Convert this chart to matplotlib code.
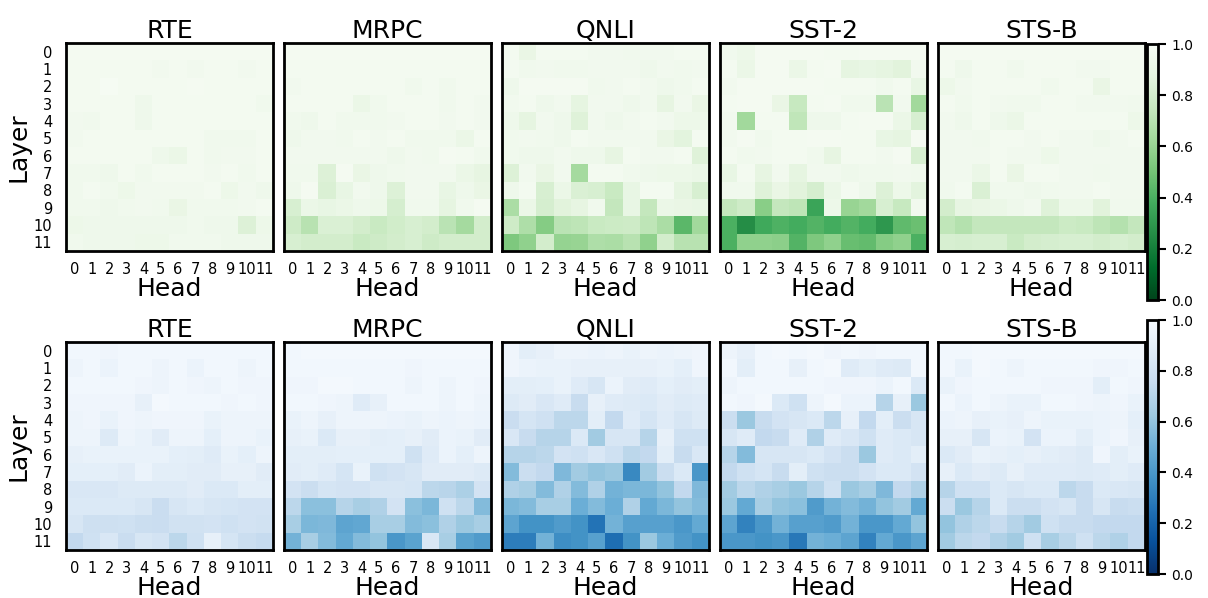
import numpy as np
import matplotlib
matplotlib.use("Agg")
import matplotlib.pyplot as plt

tasks = ["RTE", "MRPC", "QNLI", "SST-2", "STS-B"]
heads = [str(i) for i in range(12)]
layers = [str(i) for i in range(12)]

# top row (green)
rte_g = [
    [0.98,0.98,0.98,0.98,0.98,0.98,0.98,0.98,0.98,0.98,0.98,0.98],
    [0.97,0.97,0.97,0.97,0.97,0.96,0.97,0.96,0.97,0.97,0.96,0.97],
    [0.97,0.97,0.99,0.97,0.97,0.97,0.97,0.98,0.97,0.97,0.97,0.97],
    [0.97,0.97,0.97,0.97,0.94,0.97,0.97,0.97,0.97,0.97,0.97,0.95],
    [0.96,0.95,0.97,0.97,0.94,0.97,0.97,0.97,0.97,0.97,0.97,0.97],
    [0.96,0.97,0.97,0.97,0.97,0.97,0.97,0.97,0.95,0.95,0.95,0.97],
    [0.97,0.97,0.97,0.97,0.97,0.94,0.92,0.97,0.95,0.96,0.96,0.97],
    [0.95,0.95,0.94,0.97,0.95,0.97,0.97,0.97,0.96,0.97,0.95,0.97],
    [0.95,0.97,0.95,0.93,0.96,0.96,0.96,0.96,0.97,0.93,0.96,0.94],
    [0.95,0.95,0.94,0.95,0.96,0.95,0.91,0.95,0.95,0.95,0.96,0.97],
    [0.93,0.94,0.94,0.94,0.94,0.94,0.94,0.95,0.94,0.94,0.84,0.93],
    [0.95,0.94,0.94,0.94,0.93,0.93,0.95,0.95,0.95,0.94,0.94,0.94],
]
mrpc_g = [
    [0.98,0.98,0.98,0.98,0.98,0.98,0.98,0.98,0.98,0.98,0.98,0.98],
    [0.97,0.97,0.97,0.97,0.97,0.97,0.97,0.97,0.97,0.97,0.97,0.97],
    [0.96,0.97,0.97,0.97,0.97,0.97,0.97,0.95,0.97,0.95,0.97,0.97],
    [0.97,0.97,0.97,0.97,0.92,0.95,0.97,0.97,0.97,0.95,0.97,0.96],
    [0.95,0.94,0.97,0.95,0.95,0.95,0.96,0.97,0.97,0.96,0.97,0.96],
    [0.94,0.96,0.96,0.95,0.97,0.96,0.97,0.95,0.95,0.95,0.92,0.97],
    [0.96,0.96,0.96,0.96,0.96,0.96,0.94,0.96,0.95,0.98,0.97,0.95],
    [0.95,0.95,0.84,0.98,0.91,0.94,0.95,0.96,0.96,0.96,0.92,0.89],
    [0.94,0.98,0.83,0.90,0.96,0.94,0.84,0.96,0.96,0.90,0.94,0.91],
    [0.82,0.92,0.90,0.92,0.94,0.93,0.81,0.95,0.95,0.88,0.95,0.98],
    [0.78,0.70,0.83,0.83,0.80,0.76,0.79,0.82,0.80,0.71,0.64,0.80],
    [0.82,0.80,0.80,0.80,0.76,0.78,0.80,0.82,0.78,0.80,0.80,0.80],
]
qnli_g = [
    [0.97,0.91,0.97,0.97,0.97,0.96,0.96,0.95,0.96,0.96,0.97,0.97],
    [0.97,0.95,0.96,0.95,0.95,0.96,0.96,0.96,0.94,0.96,0.95,0.96],
    [0.94,0.98,0.98,0.98,0.98,0.95,0.96,0.97,0.96,0.94,0.95,0.97],
    [0.96,0.97,0.94,0.96,0.88,0.96,0.96,0.94,0.96,0.89,0.96,0.91],
    [0.94,0.88,0.96,0.94,0.85,0.96,0.94,0.96,0.97,0.96,0.93,0.93],
    [0.95,0.96,0.95,0.94,0.97,0.96,0.96,0.96,0.96,0.91,0.87,0.97],
    [0.95,0.94,0.94,0.96,0.94,0.94,0.89,0.97,0.96,0.96,0.97,0.85],
    [0.84,0.96,0.91,0.96,0.64,0.97,0.97,0.95,0.94,0.93,0.93,0.92],
    [0.94,0.97,0.82,0.92,0.83,0.82,0.76,0.90,0.97,0.97,0.88,0.82],
    [0.66,0.92,0.81,0.86,0.89,0.95,0.74,0.90,0.74,0.92,0.91,0.90],
    [0.78,0.67,0.55,0.71,0.72,0.76,0.77,0.78,0.72,0.66,0.44,0.63],
    [0.53,0.58,0.80,0.59,0.60,0.67,0.66,0.70,0.58,0.80,0.70,0.70],
]
sst2_g = [
    [0.95,0.93,0.98,0.98,0.98,0.98,0.97,0.97,0.98,0.98,0.98,0.98],
    [0.97,0.92,0.98,0.98,0.92,0.97,0.98,0.88,0.90,0.88,0.86,0.96],
    [0.96,0.98,0.98,0.98,0.98,0.98,0.97,0.97,0.97,0.95,0.97,0.90],
    [0.97,0.98,0.98,0.91,0.75,0.97,0.98,0.95,0.95,0.71,0.96,0.63],
    [0.96,0.63,0.97,0.97,0.73,0.94,0.94,0.97,0.98,0.98,0.92,0.82],
    [0.96,0.98,0.95,0.97,0.97,0.98,0.98,0.97,0.97,0.90,0.88,0.98],
    [0.97,0.95,0.96,0.97,0.97,0.95,0.89,0.97,0.97,0.96,0.98,0.82],
    [0.90,0.97,0.89,0.96,0.88,0.96,0.96,0.94,0.95,0.95,0.96,0.95],
    [0.95,0.95,0.85,0.91,0.86,0.81,0.92,0.97,0.94,0.84,0.93,0.87],
    [0.74,0.78,0.56,0.74,0.72,0.35,0.93,0.60,0.63,0.82,0.75,0.96],
    [0.40,0.26,0.37,0.41,0.38,0.42,0.38,0.42,0.38,0.30,0.45,0.48],
    [0.40,0.58,0.58,0.57,0.42,0.53,0.58,0.47,0.46,0.55,0.58,0.40],
]
stsb_g = [
    [0.98,0.98,0.98,0.98,0.98,0.98,0.98,0.98,0.98,0.98,0.98,0.98],
    [0.97,0.94,0.97,0.97,0.95,0.97,0.97,0.97,0.96,0.96,0.97,0.97],
    [0.93,0.96,0.97,0.97,0.97,0.97,0.95,0.97,0.97,0.91,0.97,0.97],
    [0.97,0.95,0.97,0.96,0.95,0.95,0.97,0.97,0.96,0.96,0.96,0.95],
    [0.96,0.94,0.97,0.94,0.92,0.97,0.97,0.97,0.97,0.97,0.97,0.93],
    [0.96,0.96,0.95,0.97,0.97,0.96,0.97,0.96,0.96,0.94,0.96,0.97],
    [0.96,0.96,0.96,0.97,0.96,0.96,0.93,0.96,0.96,0.96,0.96,0.96],
    [0.96,0.96,0.92,0.97,0.91,0.97,0.97,0.96,0.96,0.95,0.96,0.96],
    [0.95,0.97,0.83,0.95,0.95,0.94,0.95,0.96,0.96,0.97,0.96,0.96],
    [0.80,0.89,0.91,0.92,0.94,0.96,0.85,0.93,0.93,0.86,0.95,0.95],
    [0.73,0.69,0.74,0.74,0.74,0.74,0.74,0.77,0.76,0.72,0.69,0.74],
    [0.82,0.81,0.82,0.82,0.76,0.80,0.81,0.82,0.82,0.80,0.82,0.80],
]

# bottom row (blue)
rte_b = [
    [0.97,0.97,0.96,0.97,0.97,0.97,0.97,0.97,0.97,0.97,0.97,0.97],
    [0.95,0.97,0.94,0.97,0.97,0.95,0.97,0.94,0.97,0.97,0.95,0.97],
    [0.97,0.97,0.97,0.97,0.96,0.95,0.97,0.96,0.95,0.97,0.96,0.96],
    [0.96,0.96,0.96,0.96,0.92,0.98,0.97,0.97,0.97,0.96,0.97,0.96],
    [0.95,0.96,0.93,0.96,0.95,0.96,0.96,0.96,0.93,0.95,0.95,0.95],
    [0.95,0.95,0.87,0.95,0.93,0.89,0.95,0.95,0.91,0.95,0.95,0.93],
    [0.92,0.93,0.93,0.93,0.93,0.93,0.91,0.90,0.88,0.93,0.91,0.95],
    [0.91,0.91,0.91,0.89,0.94,0.90,0.90,0.89,0.89,0.92,0.92,0.89],
    [0.85,0.85,0.85,0.87,0.87,0.87,0.87,0.89,0.86,0.86,0.90,0.90],
    [0.86,0.86,0.86,0.86,0.84,0.77,0.84,0.86,0.84,0.83,0.82,0.82],
    [0.84,0.79,0.79,0.80,0.78,0.77,0.81,0.81,0.82,0.80,0.82,0.81],
    [0.74,0.80,0.85,0.77,0.84,0.82,0.72,0.80,0.92,0.83,0.78,0.75],
]
mrpc_b = [
    [0.97,0.98,0.98,0.98,0.98,0.98,0.98,0.98,0.98,0.98,0.98,0.98],
    [0.97,0.97,0.97,0.97,0.97,0.97,0.97,0.96,0.97,0.97,0.97,0.97],
    [0.96,0.96,0.98,0.98,0.97,0.97,0.97,0.95,0.97,0.95,0.97,0.96],
    [0.97,0.97,0.96,0.95,0.88,0.92,0.97,0.97,0.97,0.95,0.97,0.95],
    [0.93,0.95,0.92,0.95,0.95,0.95,0.94,0.93,0.95,0.94,0.95,0.94],
    [0.92,0.93,0.86,0.92,0.92,0.90,0.91,0.92,0.89,0.94,0.93,0.89],
    [0.90,0.90,0.90,0.91,0.91,0.91,0.91,0.80,0.88,0.94,0.91,0.95],
    [0.89,0.90,0.88,0.83,0.93,0.80,0.82,0.84,0.89,0.89,0.89,0.87],
    [0.82,0.78,0.83,0.82,0.82,0.84,0.84,0.83,0.72,0.71,0.67,0.82],
    [0.72,0.58,0.58,0.70,0.66,0.68,0.82,0.58,0.54,0.80,0.72,0.56],
    [0.66,0.54,0.55,0.46,0.47,0.66,0.66,0.56,0.58,0.68,0.62,0.66],
    [0.52,0.66,0.56,0.48,0.56,0.60,0.40,0.45,0.85,0.66,0.45,0.42],
]
qnli_b = [
    [0.96,0.90,0.92,0.95,0.95,0.94,0.95,0.93,0.95,0.94,0.95,0.96],
    [0.96,0.94,0.93,0.93,0.92,0.92,0.92,0.92,0.92,0.93,0.91,0.96],
    [0.90,0.90,0.91,0.93,0.88,0.84,0.94,0.89,0.88,0.91,0.89,0.90],
    [0.87,0.89,0.85,0.88,0.76,0.92,0.88,0.87,0.86,0.89,0.87,0.88],
    [0.77,0.83,0.80,0.72,0.72,0.90,0.74,0.88,0.83,0.88,0.84,0.87],
    [0.85,0.76,0.70,0.70,0.86,0.64,0.84,0.84,0.70,0.92,0.80,0.80],
    [0.70,0.70,0.72,0.82,0.80,0.85,0.80,0.72,0.74,0.90,0.76,0.85],
    [0.56,0.78,0.74,0.55,0.64,0.60,0.62,0.34,0.64,0.78,0.86,0.40],
    [0.68,0.66,0.56,0.68,0.56,0.68,0.52,0.54,0.54,0.60,0.74,0.55],
    [0.54,0.56,0.66,0.66,0.50,0.56,0.50,0.68,0.48,0.54,0.60,0.56],
    [0.46,0.38,0.38,0.42,0.38,0.26,0.52,0.44,0.44,0.44,0.40,0.48],
    [0.30,0.30,0.52,0.36,0.38,0.44,0.24,0.38,0.62,0.50,0.42,0.38],
]
sst2_b = [
    [0.95,0.92,0.97,0.98,0.97,0.98,0.96,0.97,0.96,0.97,0.97,0.97],
    [0.97,0.90,0.97,0.97,0.92,0.97,0.98,0.88,0.91,0.88,0.87,0.97],
    [0.95,0.97,0.97,0.97,0.97,0.97,0.96,0.96,0.96,0.94,0.97,0.86],
    [0.97,0.96,0.98,0.86,0.80,0.95,0.98,0.94,0.94,0.70,0.92,0.62],
    [0.78,0.62,0.76,0.82,0.84,0.86,0.72,0.92,0.74,0.90,0.78,0.84],
    [0.84,0.88,0.74,0.76,0.88,0.68,0.88,0.85,0.80,0.88,0.86,0.84],
    [0.70,0.56,0.84,0.84,0.84,0.86,0.82,0.78,0.62,0.88,0.86,0.90],
    [0.74,0.80,0.83,0.76,0.90,0.80,0.78,0.78,0.82,0.86,0.86,0.82],
    [0.64,0.72,0.68,0.66,0.62,0.70,0.80,0.62,0.66,0.55,0.74,0.68],
    [0.62,0.48,0.66,0.60,0.58,0.42,0.52,0.56,0.52,0.60,0.64,0.48],
    [0.46,0.32,0.40,0.52,0.44,0.44,0.42,0.52,0.40,0.40,0.48,0.60],
    [0.40,0.40,0.38,0.40,0.28,0.52,0.50,0.46,0.32,0.48,0.40,0.46],
]
stsb_b = [
    [0.97,0.97,0.98,0.98,0.98,0.98,0.98,0.98,0.98,0.98,0.98,0.98],
    [0.97,0.93,0.98,0.97,0.95,0.97,0.97,0.97,0.97,0.96,0.96,0.97],
    [0.93,0.96,0.97,0.97,0.97,0.97,0.96,0.96,0.96,0.90,0.97,0.96],
    [0.97,0.94,0.97,0.95,0.93,0.93,0.97,0.97,0.96,0.95,0.96,0.93],
    [0.94,0.95,0.92,0.93,0.92,0.95,0.93,0.93,0.93,0.94,0.95,0.91],
    [0.92,0.92,0.84,0.94,0.93,0.82,0.94,0.94,0.90,0.94,0.96,0.92],
    [0.86,0.89,0.93,0.92,0.91,0.92,0.90,0.89,0.87,0.96,0.90,0.93],
    [0.92,0.86,0.89,0.87,0.92,0.88,0.88,0.88,0.87,0.88,0.90,0.88],
    [0.70,0.80,0.80,0.86,0.84,0.86,0.86,0.72,0.76,0.86,0.85,0.84],
    [0.78,0.62,0.70,0.86,0.78,0.78,0.82,0.84,0.76,0.84,0.76,0.78],
    [0.60,0.68,0.72,0.76,0.70,0.64,0.80,0.76,0.76,0.74,0.74,0.74],
    [0.64,0.72,0.74,0.68,0.64,0.80,0.66,0.72,0.80,0.72,0.68,0.74],
]

rows = [
    ("Greens_r", [rte_g, mrpc_g, qnli_g, sst2_g, stsb_g]),
    ("Blues_r", [rte_b, mrpc_b, qnli_b, sst2_b, stsb_b]),
]

fig = plt.figure(figsize=(12.08, 5.98), dpi=100)

lefts = [66, 284, 502, 720, 938]
tops = [43, 342]
cbar_y = [(44, 300), (320, 574)]

for r, (cmap, mats) in enumerate(rows):
    for c, m in enumerate(mats):
        ax = fig.add_axes([lefts[c] / 1208, 1 - (tops[r] + 208) / 598, 207 / 1208, 208 / 598])
        im = ax.imshow(np.array(m), cmap=cmap, vmin=0, vmax=1, aspect="auto",
                       interpolation="nearest")
        ax.set_title(tasks[c], fontsize=18, pad=0)
        ax.set_xticks(range(12))
        ax.set_xticklabels(heads, fontsize=10.5)
        ax.set_xlabel("Head", fontsize=18, labelpad=0)
        ax.tick_params(axis="x", length=0, pad=8)
        ax.tick_params(axis="y", length=0, pad=10)
        if c == 0:
            ax.set_yticks(range(12))
            ax.set_yticklabels(layers, fontsize=10.5)
            ax.set_ylabel("Layer", fontsize=18, labelpad=2)
        else:
            ax.set_yticks([])
        for s in ax.spines.values():
            s.set_linewidth(2)
    y0, y1 = cbar_y[r]
    cax = fig.add_axes([1147 / 1208, 1 - y1 / 598, 11 / 1208, (y1 - y0) / 598])
    cb = fig.colorbar(im, cax=cax, ticks=[0, 0.2, 0.4, 0.6, 0.8, 1.0])
    cb.outline.set_linewidth(2)
    cb.ax.tick_params(labelsize=10, length=6, width=1.5)

plt.savefig("out.png", dpi=100)
